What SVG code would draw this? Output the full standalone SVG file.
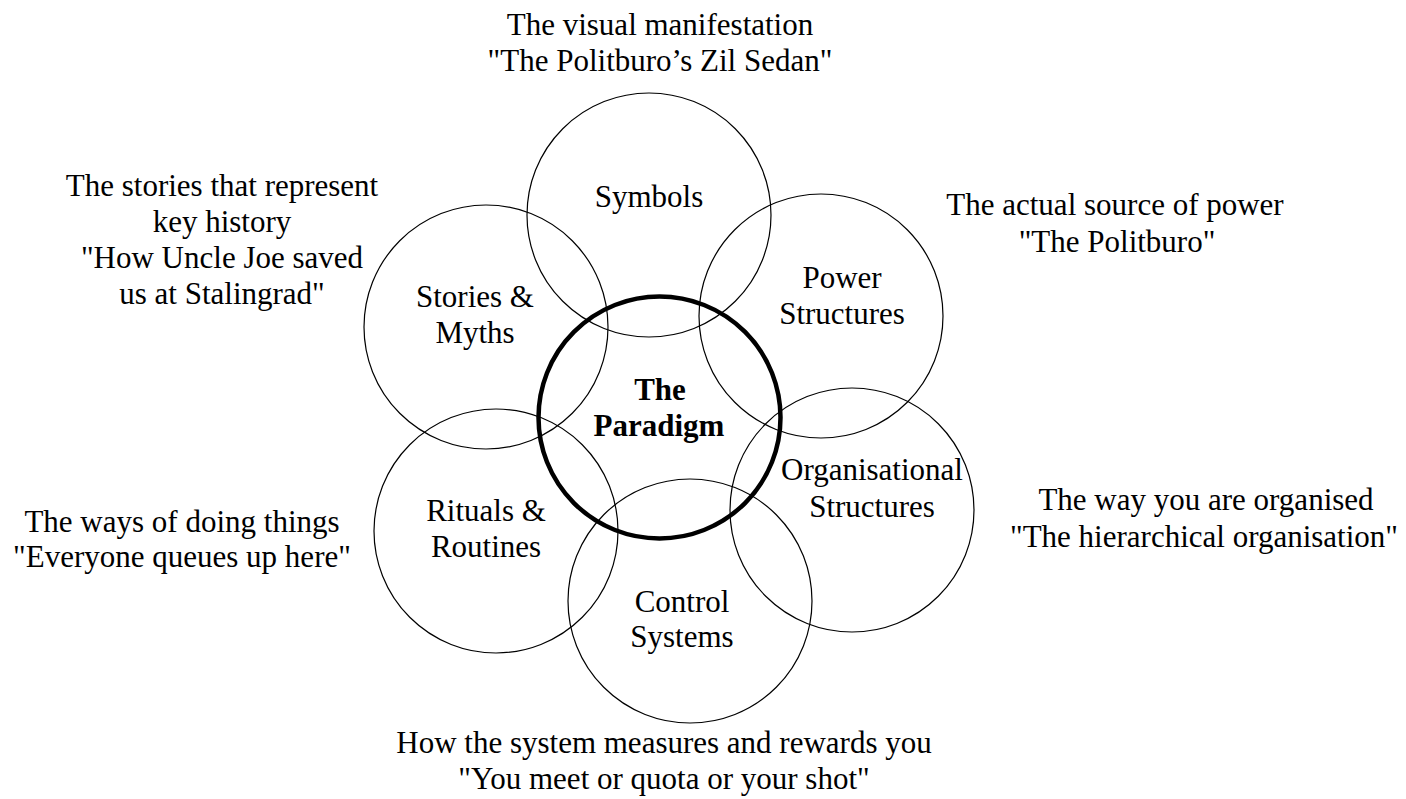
<svg xmlns="http://www.w3.org/2000/svg" width="1406" height="799" viewBox="0 0 1406 799">
<style>
text{font-family:"Liberation Serif","Times New Roman",serif;font-size:31px;fill:#000;text-anchor:middle}
.c{fill:none;stroke:#000;stroke-width:1.2}
.p{fill:none;stroke:#000;stroke-width:4.5}
.b{font-weight:bold}
</style>
<rect width="1406" height="799" fill="#fff"/>
<g id="connectors"></g>
<g id="symbols">
<circle class="c" cx="649" cy="215" r="122"/>
<text x="649" y="207">Symbols</text>
</g>
<g id="power">
<circle class="c" cx="821" cy="316" r="122"/>
<text x="842" y="288">Power</text>
<text x="842" y="324">Structures</text>
</g>
<g id="stories">
<circle class="c" cx="486" cy="327" r="122"/>
<text x="475" y="307">Stories &amp;</text>
<text x="475" y="343">Myths</text>
</g>
<g id="organisational">
<circle class="c" cx="852" cy="510" r="122"/>
<text x="872" y="480">Organisational</text>
<text x="872" y="517">Structures</text>
</g>
<g id="rituals">
<circle class="c" cx="496" cy="531" r="122"/>
<text x="486" y="521">Rituals &amp;</text>
<text x="486" y="557">Routines</text>
</g>
<g id="control">
<circle class="c" cx="690" cy="601" r="122"/>
<text x="682" y="612">Control</text>
<text x="682" y="647">Systems</text>
</g>
<g id="paradigm">
<circle class="p" cx="659.5" cy="417.5" r="121"/>
<text class="b" x="660" y="400">The</text>
<text class="b" x="659" y="436">Paradigm</text>
</g>
<g id="note-symbols">
<text x="660" y="35">The visual manifestation</text>
<text x="660" y="71">"The Politburo’s Zil Sedan"</text>
</g>
<g id="note-stories">
<text x="222" y="196">The stories that represent</text>
<text x="222" y="232">key history</text>
<text x="222" y="268">"How Uncle Joe saved</text>
<text x="222" y="304">us at Stalingrad"</text>
</g>
<g id="note-power">
<text x="1115" y="215">The actual source of power</text>
<text x="1117" y="252">"The Politburo"</text>
</g>
<g id="note-organisational">
<text x="1206" y="510">The way you are organised</text>
<text x="1204" y="547">"The hierarchical organisation"</text>
</g>
<g id="note-rituals">
<text x="182" y="532">The ways of doing things</text>
<text x="182" y="567">"Everyone queues up here"</text>
</g>
<g id="note-control">
<text x="664" y="753">How the system measures and rewards you</text>
<text x="664" y="789">"You meet or quota or your shot"</text>
</g>
</svg>
